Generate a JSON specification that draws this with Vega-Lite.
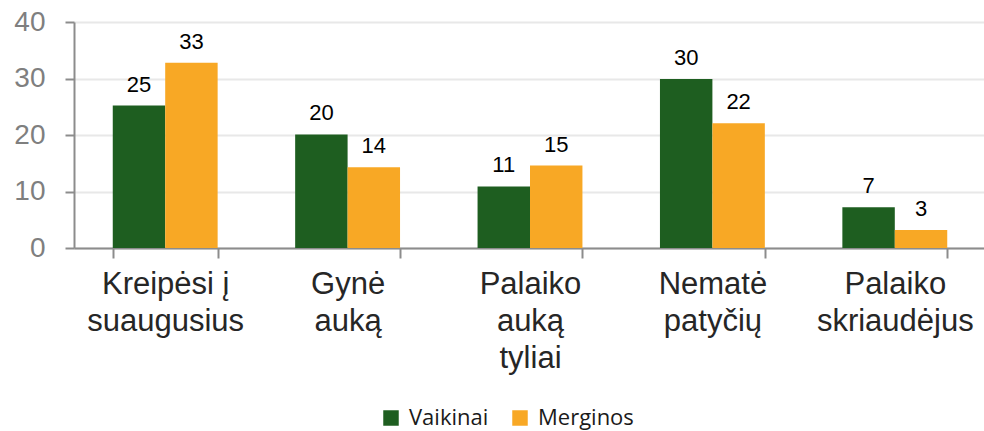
{
  "$schema": "https://vega.github.io/schema/vega-lite/v6.json",
  "width": 912,
  "height": 226,
  "autosize": {"type": "none"},
  "padding": {"left": 74, "top": 22, "right": 0, "bottom": 183},
  "background": "white",
  "config": {
    "view": {"stroke": null},
    "font": "Liberation Sans"
  },
  "data": {
    "values": [
      {"cat": "Kreipėsi į|suaugusius", "g": "Vaikinai", "v": 25.2},
      {"cat": "Kreipėsi į|suaugusius", "g": "Merginos", "v": 32.8},
      {"cat": "Gynė|auką", "g": "Vaikinai", "v": 20.1},
      {"cat": "Gynė|auką", "g": "Merginos", "v": 14.3},
      {"cat": "Palaiko|auką|tyliai", "g": "Vaikinai", "v": 10.9},
      {"cat": "Palaiko|auką|tyliai", "g": "Merginos", "v": 14.6},
      {"cat": "Nematė|patyčių", "g": "Vaikinai", "v": 29.9},
      {"cat": "Nematė|patyčių", "g": "Merginos", "v": 22.1},
      {"cat": "Palaiko|skriaudėjus", "g": "Vaikinai", "v": 7.2},
      {"cat": "Palaiko|skriaudėjus", "g": "Merginos", "v": 3.2}
    ]
  },
  "encoding": {
    "x": {
      "field": "cat",
      "type": "nominal",
      "sort": null,
      "scale": {"paddingInner": 0.425, "paddingOuter": 0.2125},
      "axis": {
        "title": null,
        "labelAngle": 0,
        "labelExpr": "split(datum.label, '|')",
        "labelFontSize": 31,
        "labelColor": "#262626",
        "labelLineHeight": 37,
        "labelPadding": 11,
        "labelBaseline": "top",
        "labelOverlap": false,
        "labelBound": false,
        "tickBand": "extent",
        "tickSize": 10,
        "tickColor": "#8c8c8c",
        "tickWidth": 2,
        "domainColor": "#8c8c8c",
        "domainWidth": 2,
        "grid": false
      }
    },
    "xOffset": {"field": "g", "type": "nominal", "sort": ["Vaikinai", "Merginos"]},
    "y": {
      "field": "v",
      "type": "quantitative",
      "scale": {"domain": [0, 40], "nice": false},
      "axis": {
        "title": null,
        "values": [0, 10, 20, 30, 40],
        "labelFontSize": 28,
        "labelColor": "#7f7f7f",
        "labelPadding": 20,
        "tickSize": 9,
        "tickColor": "#8c8c8c",
        "tickWidth": 2,
        "domainColor": "#8c8c8c",
        "domainWidth": 2,
        "gridColor": "#e8e8e8",
        "gridWidth": 2
      }
    }
  },
  "layer": [
    {
      "mark": {"type": "bar"},
      "encoding": {
        "color": {
          "field": "g",
          "type": "nominal",
          "sort": ["Vaikinai", "Merginos"],
          "scale": {"domain": ["Vaikinai", "Merginos"], "range": ["#1e5e20", "#f8a825"]},
          "legend": {
            "title": null,
            "orient": "none",
            "direction": "horizontal",
            "legendX": 306,
            "legendY": 385,
            "symbolType": "square",
            "symbolSize": 240,
            "symbolStrokeWidth": 0,
            "symbolOpacity": 1,
            "labelFontSize": 22,
            "labelFont": "Open Sans",
            "labelColor": "#1a1a1a",
            "labelOffset": 7,
            "columnPadding": 20
          }
        }
      }
    },
    {
      "mark": {"type": "text", "dy": -14, "baseline": "alphabetic", "fontSize": 22, "color": "#000000"},
      "encoding": {
        "text": {"field": "v", "type": "quantitative", "format": ".0f"}
      }
    }
  ]
}
